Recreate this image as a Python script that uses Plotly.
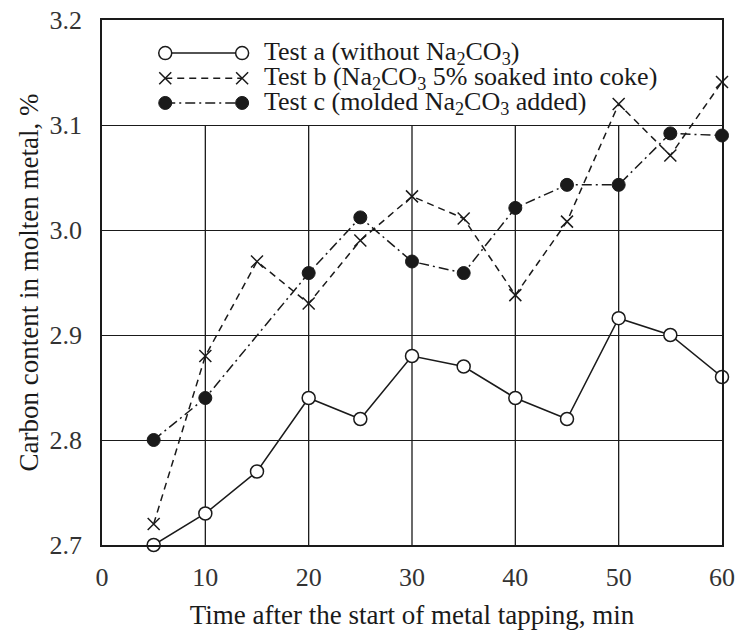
import plotly.graph_objects as go

# ---- data ----
time_a = [5, 10, 15, 20, 25, 30, 35, 40, 45, 50, 55, 60]
carbon_a = [2.70, 2.73, 2.77, 2.84, 2.82, 2.88, 2.87, 2.84, 2.82, 2.916, 2.90, 2.86]

time_b = [5, 10, 15, 20, 25, 30, 35, 40, 45, 50, 55, 60]
carbon_b = [2.72, 2.88, 2.97, 2.93, 2.99, 3.032, 3.011, 2.938, 3.008, 3.12, 3.071, 3.141]

time_c = [5, 10, 20, 25, 30, 35, 40, 45, 50, 55, 60]
carbon_c = [2.80, 2.84, 2.959, 3.012, 2.97, 2.959, 3.021, 3.043, 3.043, 3.092, 3.09]

series_names = [
    "Test a (without Na<sub>2</sub>CO<sub>3</sub>)",
    "Test b (Na<sub>2</sub>CO<sub>3</sub> 5% soaked into coke)",
    "Test c (molded Na<sub>2</sub>CO<sub>3</sub> added)",
]
x_ticks = [0, 10, 20, 30, 40, 50, 60]
y_ticks = [2.7, 2.8, 2.9, 3.0, 3.1, 3.2]
x_title = "Time after the start of metal tapping, min"
y_title = "Carbon content in molten metal, %"

FONT = "Liberation Serif"
INK = "#1a1a1a"

styles = [
    dict(line=dict(color=INK, width=1.5, dash="solid"),
         marker=dict(symbol="circle", size=13, color="white", line=dict(color=INK, width=1.5))),
    dict(line=dict(color=INK, width=1.5, dash="7px,5px"),
         marker=dict(symbol="x-thin-open", size=12, color=INK, line=dict(color=INK, width=1.5))),
    dict(line=dict(color=INK, width=1.5, dash="10px,4px,2px,4px"),
         marker=dict(symbol="circle", size=13, color=INK, line=dict(color=INK, width=1))),
]

fig = go.Figure()
for xs, ys, st, nm in zip([time_a, time_b, time_c], [carbon_a, carbon_b, carbon_c], styles, series_names):
    fig.add_trace(go.Scatter(x=xs, y=ys, mode="lines+markers", name=nm,
                             line=st["line"], marker=st["marker"], cliponaxis=False,
                             showlegend=False))

# ---- custom legend (samples with markers at both ends) on an overlay axis ----
leg_x0, leg_x1, leg_text_x = 0.102, 0.226, 0.258
leg_rows = [0.937, 0.889, 0.842]
for st, nm, ry in zip(styles, series_names, leg_rows):
    fig.add_trace(go.Scatter(x=[leg_x0, leg_x1], y=[ry, ry], mode="lines+markers",
                             line=st["line"], marker=st["marker"], xaxis="x2", yaxis="y2",
                             showlegend=False, hoverinfo="skip", cliponaxis=False))
    fig.add_annotation(x=leg_text_x, y=ry, xref="paper", yref="paper", text=nm,
                       showarrow=False, xanchor="left", yanchor="middle",
                       font=dict(family=FONT, size=26, color=INK))

# vertical gridlines only below the legend band
for xv in x_ticks[1:-1]:
    fig.add_shape(type="line", x0=xv, x1=xv, y0=y_ticks[0], y1=y_ticks[-2],
                  xref="x", yref="y", line=dict(color=INK, width=1.3), layer="below")

fig.update_layout(
    width=735, height=630,
    margin=dict(l=102, r=13, t=20, b=85),
    paper_bgcolor="white", plot_bgcolor="white",
    font=dict(family=FONT, color=INK),
    xaxis=dict(range=[0, 60], tickvals=x_ticks, showgrid=False, zeroline=False,
               showline=True, mirror=True, linecolor=INK, linewidth=1.5,
               ticks="", ticklabelstandoff=8, automargin=False,
               tickfont=dict(family=FONT, size=26, color="#333"),
               title=dict(text=x_title, font=dict(family=FONT, size=27, color=INK), standoff=14)),
    yaxis=dict(range=[2.7, 3.2], tickvals=y_ticks, tickformat=".1f",
               showgrid=True, gridcolor=INK, gridwidth=1.3, zeroline=False,
               showline=True, mirror=True, linecolor=INK, linewidth=1.5,
               ticks="", ticklabelstandoff=13, automargin=False,
               tickfont=dict(family=FONT, size=26, color="#333"),
               title=dict(text=y_title, font=dict(family=FONT, size=27, color=INK), standoff=3)),
    xaxis2=dict(range=[0, 1], overlaying="x", visible=False, fixedrange=True),
    yaxis2=dict(range=[0, 1], overlaying="y", visible=False, fixedrange=True),
    showlegend=False,
)

fig.write_html("out.html", config={"displayModeBar": False},
               post_script="document.body.style.margin='0';")
